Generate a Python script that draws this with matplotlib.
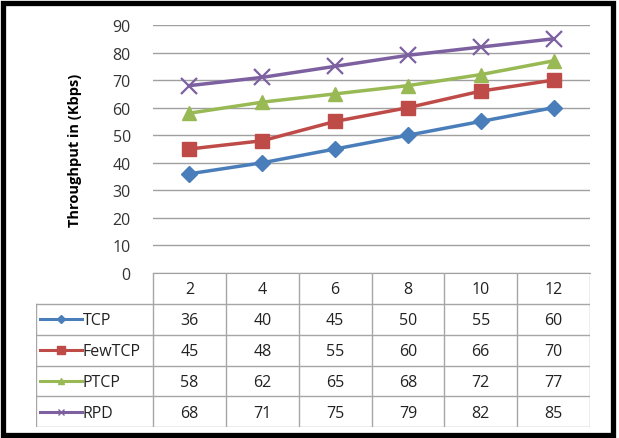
import matplotlib
matplotlib.use("Agg")
import matplotlib.pyplot as plt
from matplotlib.patches import Rectangle
from matplotlib.lines import Line2D

categories = ["2", "4", "6", "8", "10", "12"]
series_names = ["TCP", "FewTCP", "PTCP", "RPD"]
tcp = [36, 40, 45, 50, 55, 60]
fewtcp = [45, 48, 55, 60, 66, 70]
ptcp = [58, 62, 65, 68, 72, 77]
rpd = [68, 71, 75, 79, 82, 85]
values = [tcp, fewtcp, ptcp, rpd]
y_ticks = [0, 10, 20, 30, 40, 50, 60, 70, 80, 90]
y_label = "Throughput in (Kbps)"

colors = ["#4A7EBB", "#BE4B48", "#98B954", "#7D60A0"]
markers = ["D", "s", "^", "x"]
msizes = [8, 10, 10, 11]
leg_msizes = [4, 6, 5, 5]

plt.rcParams['font.family'] = ['Open Sans', 'DejaVu Sans']

W, H = 619, 439
fig = plt.figure(figsize=(W / 100, H / 100), dpi=100)

def fx(px):
    return px / W

def fy(py):
    return 1 - py / H

# outer frame
fig.patches.append(Rectangle((fx(3), fy(435.5)), fx(610), 432 / H, transform=fig.transFigure,
                             fill=False, edgecolor="black", linewidth=3.8))

left, right, top, bottom = 153, 590, 26, 274
ax = fig.add_axes([fx(left), fy(bottom), fx(right - left), (bottom - top) / H])
n = len(categories)
xs = list(range(n))
for vals, c, m, ms in zip(values, colors, markers, msizes):
    if m == "x":
        ax.plot(xs, vals, color=c, linewidth=2.5, marker=m, markersize=ms,
                markeredgewidth=1.6, zorder=3)
    else:
        ax.plot(xs, vals, color=c, linewidth=2.5, marker=m, markersize=ms,
                markeredgecolor=c, zorder=3)
ax.set_xlim(-0.5, n - 0.5)
ax.set_ylim(0, 90)
ax.set_yticks(y_ticks)
ax.set_yticklabels([str(t) for t in y_ticks], fontsize=11.5, color="#333333")
ax.set_xticks([])
ax.grid(axis="y", color="#A0A0A0", linewidth=1.0)
ax.set_axisbelow(True)
for s in ["top", "right", "left"]:
    ax.spines[s].set_visible(False)
ax.spines["bottom"].set_color("#A0A0A0")
ax.tick_params(axis="y", length=0, pad=16)
ax.set_ylabel(y_label, fontsize=10.5, fontweight="bold", labelpad=22)

# data table
tleft, tbottom = 36, 428
header_h = 31
row_h = (tbottom - bottom - header_h) / len(series_names)
colw = (right - left) / n
tax = fig.add_axes([fx(tleft), fy(tbottom), fx(right - tleft), (tbottom - bottom) / H])
tax.set_xlim(tleft, right)
tax.set_ylim(tbottom, bottom)
tax.axis("off")
gc = "#A6A6A6"
lw = 1.0
for i in range(n + 1):
    x = left + i * colw
    tax.plot([x, x], [bottom, tbottom], color=gc, linewidth=lw)
for i, cat in enumerate(categories):
    tax.text(left + (i + 0.5) * colw, bottom + header_h / 2 + 1, cat, ha="center", va="center",
             fontsize=11.5, color="#222222")
tax.plot([tleft, tleft], [bottom + header_h, tbottom], color=gc, linewidth=lw)
for r in range(len(series_names) + 1):
    y = bottom + header_h + r * row_h
    tax.plot([tleft, right], [y, y], color=gc, linewidth=lw)
for r, (name, vals, c, m, ms) in enumerate(zip(series_names, values, colors, markers, leg_msizes)):
    yc = bottom + header_h + (r + 0.5) * row_h
    tax.add_line(Line2D([tleft + 4, tleft + 46], [yc, yc], color=c, linewidth=2.2))
    tax.add_line(Line2D([tleft + 25], [yc], color=c, marker=m, markersize=ms,
                        markeredgewidth=1.0))
    tax.text(tleft + 47, yc + 1, name, ha="left", va="center", fontsize=11.5, color="#222222")
    for i, v in enumerate(vals):
        tax.text(left + (i + 0.5) * colw, yc + 1, str(v), ha="center", va="center",
                 fontsize=11.5, color="#222222")

fig.savefig("out.png", dpi=100)
